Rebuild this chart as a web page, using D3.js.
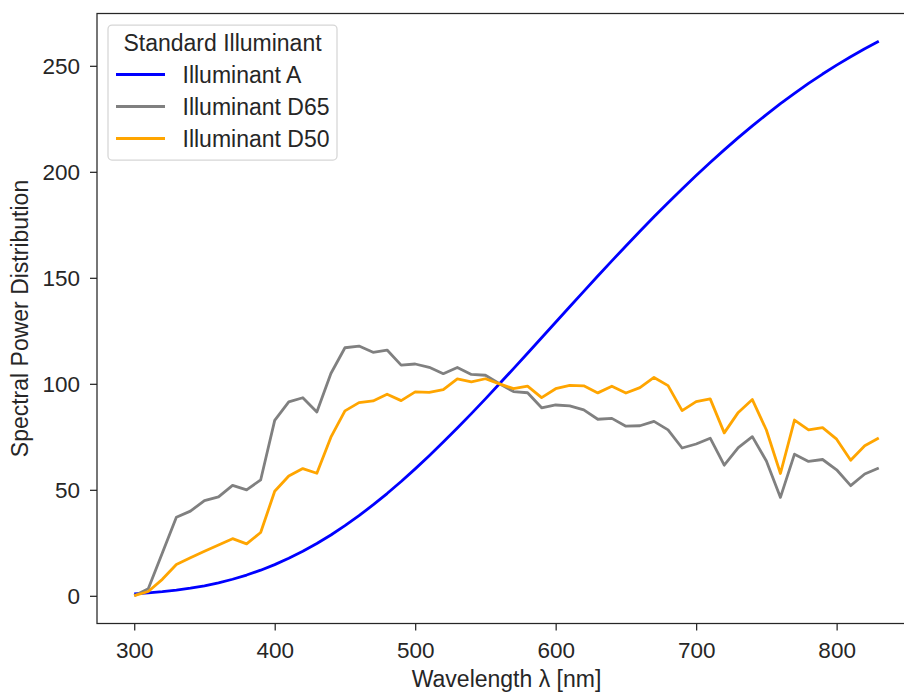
<!DOCTYPE html>
<html>
<head>
<meta charset="utf-8">
<script src="https://cdn.jsdelivr.net/npm/d3@7"></script>
<style>
  html, body { margin: 0; padding: 0; background: #fff; }
  svg { display: block; font-family: "Liberation Sans", Arial, sans-serif; }
</style>
</head>
<body>
<svg id="chart" width="904" height="693"></svg>
<script>
// Wavelengths (nm), 10 nm steps
const wavelengths = d3.range(300, 831, 10);

// CIE Standard Illuminant A (relative SPD)
const illuminantA = [
  0.93, 1.36, 1.93, 2.66, 3.59, 4.74, 6.14, 7.82, 9.80, 12.09,
  14.71, 17.68, 20.99, 24.67, 28.70, 33.09, 37.81, 42.87, 48.24, 53.91,
  59.86, 66.06, 72.50, 79.13, 85.95, 92.91, 100.00, 107.18, 114.44, 121.73,
  129.04, 136.35, 143.62, 150.84, 157.98, 165.03, 171.96, 178.77, 185.43, 191.93,
  198.26, 204.41, 210.36, 216.12, 221.67, 227.00, 232.12, 237.01, 241.68, 246.12,
  250.33, 254.31, 258.07, 261.60
];

// CIE Standard Illuminant D65
const illuminantD65 = [
  0.03, 3.29, 20.24, 37.05, 39.95, 44.91, 46.64, 52.09, 49.98, 54.65,
  82.75, 91.49, 93.43, 86.68, 104.87, 117.01, 117.81, 114.86, 115.92, 108.81,
  109.35, 107.80, 104.79, 107.69, 104.41, 104.05, 100.00, 96.33, 95.79, 88.69,
  90.01, 89.60, 87.70, 83.29, 83.70, 80.03, 80.21, 82.28, 78.28, 69.72,
  71.61, 74.35, 61.60, 69.89, 75.09, 63.59, 46.42, 66.81, 63.38, 64.30,
  59.45, 51.96, 57.44, 60.31
];

// CIE Standard Illuminant D50
const illuminantD50 = [
  0.02, 2.05, 7.78, 14.75, 17.95, 21.01, 23.94, 26.96, 24.49, 29.87,
  49.31, 56.51, 60.03, 57.82, 74.83, 87.25, 91.14, 91.94, 95.07, 92.06,
  96.18, 95.97, 97.26, 102.30, 100.95, 102.39, 100.00, 97.74, 98.92, 93.50,
  97.69, 99.27, 99.04, 95.72, 98.86, 95.67, 98.19, 103.00, 99.13, 87.38,
  91.60, 92.89, 76.85, 86.51, 92.58, 78.23, 57.69, 82.92, 78.27, 79.30,
  73.89, 63.96, 70.81, 74.45
];

const seriesNames = ["Illuminant A", "Illuminant D65", "Illuminant D50"];
const seriesValues = [illuminantA, illuminantD65, illuminantD50];
const seriesColors = ["#0000ff", "#808080", "#ffa500"];

const xTicks = [300, 400, 500, 600, 700, 800];
const yTicks = [0, 50, 100, 150, 200, 250];

const svg = d3.select("#chart");
const ink = "#262626";

// Plot box
const plotLeft = 97, plotRight = 916, plotTop = 13.5, plotBottom = 623.5;

// Data extent padded by 5% on each side
const xMin = d3.min(wavelengths), xMax = d3.max(wavelengths);
const allY = seriesValues.flat();
const yMin = d3.min(allY), yMax = d3.max(allY);
const xPad = (xMax - xMin) * 0.05, yPad = (yMax - yMin) * 0.05;

const x = d3.scaleLinear().domain([xMin - xPad, xMax + xPad]).range([plotLeft, plotRight]);
const y = d3.scaleLinear().domain([yMin - yPad, yMax + yPad]).range([plotBottom, plotTop]);

// Axes
const xAxis = svg.append("g")
  .attr("transform", `translate(0,${plotBottom})`)
  .call(d3.axisBottom(x).tickValues(xTicks).tickSize(7).tickPadding(8).tickFormat(d3.format("d")));
const yAxis = svg.append("g")
  .attr("transform", `translate(${plotLeft},0)`)
  .call(d3.axisLeft(y).tickValues(yTicks).tickSize(7).tickPadding(10).tickFormat(d3.format("d")));

[xAxis, yAxis].forEach(g => {
  g.select(".domain").remove();
  g.selectAll(".tick line").attr("stroke", ink).attr("stroke-width", 1.25);
  g.selectAll(".tick text").attr("fill", ink).style("font-size", "22.5px")
    .style("font-family", "'Liberation Sans', Arial, sans-serif");
});
xAxis.selectAll(".tick text").attr("dy", "0.85em");

// Frame (spines)
svg.append("rect")
  .attr("x", plotLeft).attr("y", plotTop)
  .attr("width", plotRight - plotLeft).attr("height", plotBottom - plotTop)
  .attr("fill", "none").attr("stroke", ink).attr("stroke-width", 1.25);

// Lines
const line = d3.line().x((d, i) => x(wavelengths[i])).y(d => y(d));
const plot = svg.append("g");
seriesValues.forEach((vals, k) => {
  plot.append("path")
    .datum(vals)
    .attr("d", line)
    .attr("fill", "none")
    .attr("stroke", seriesColors[k])
    .attr("stroke-width", 2.8)
    .attr("stroke-linejoin", "round")
    .attr("stroke-linecap", "butt");
});

// Axis titles
svg.append("text")
  .attr("x", (plotLeft + plotRight) / 2).attr("y", 687)
  .attr("text-anchor", "middle")
  .attr("fill", ink).style("font-size", "23px")
  .text("Wavelength λ [nm]");

svg.append("text")
  .attr("transform", `translate(28,${(plotTop + plotBottom) / 2}) rotate(-90)`)
  .attr("text-anchor", "middle")
  .attr("fill", ink).style("font-size", "23px")
  .text("Spectral Power Distribution");

// Legend
const legend = svg.append("g");
legend.append("rect")
  .attr("x", 108).attr("y", 25)
  .attr("width", 229).attr("height", 135)
  .attr("rx", 4).attr("ry", 4)
  .attr("fill", "#fff").attr("fill-opacity", 0.8)
  .attr("stroke", "#d6d6d6").attr("stroke-width", 1.25);
legend.append("text")
  .attr("x", 222.5).attr("y", 50.5)
  .attr("text-anchor", "middle")
  .attr("fill", ink).style("font-size", "23px")
  .text("Standard Illuminant");
seriesNames.forEach((name, k) => {
  const ly = 74.5 + k * 32;
  legend.append("line")
    .attr("x1", 116).attr("x2", 165)
    .attr("y1", ly).attr("y2", ly)
    .attr("stroke", seriesColors[k]).attr("stroke-width", 2.8);
  legend.append("text")
    .attr("x", 182.5).attr("y", ly + 8)
    .attr("fill", ink).style("font-size", "23px")
    .text(name);
});
</script>
</body>
</html>
